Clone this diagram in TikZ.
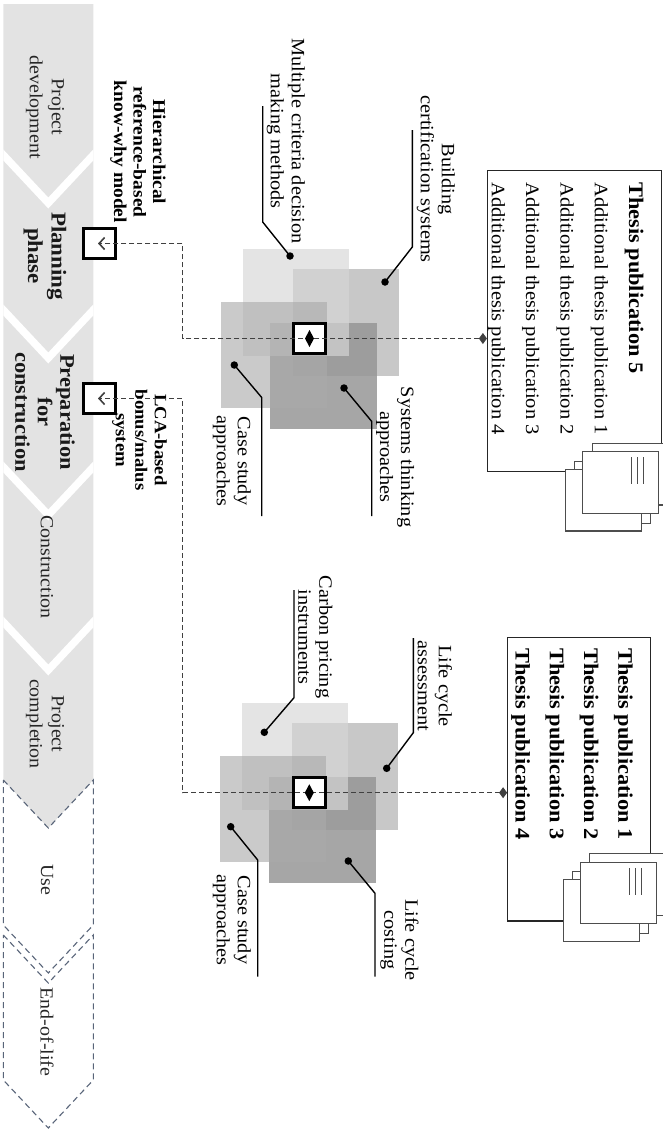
\documentclass[tikz,border=0pt]{standalone}
\usepackage{fontspec}
\setmainfont{Liberation Serif}[FakeStretch=1.08]
\usetikzlibrary{arrows.meta}
\definecolor{bandgray}{HTML}{E3E3E3}
\definecolor{dashslate}{HTML}{596579}
\definecolor{sqAcol}{RGB}{215,215,215}
\definecolor{sqBcol}{RGB}{190,190,190}
\definecolor{sqCcol}{RGB}{170,170,170}
\definecolor{sqDcol}{RGB}{150,150,150}
\definecolor{pagegray}{HTML}{4D4D4D}
\tikzset{
  phasedash/.style={draw=dashslate, line width=1.1pt, dash pattern=on 6pt off 4pt},
  phasereg/.style={rotate=-90, align=center, inner sep=0pt, text=black!85, font={\fontsize{18.5}{22}\selectfont}},
  phasebold/.style={rotate=-90, align=center, inner sep=0pt, text=black!90, font={\bfseries\fontsize{20.8}{22.5}\selectfont}},
  annot/.style={rotate=-90, align=center, inner sep=0pt},
  selbox/.style={draw=black, line width=3pt, fill=white, minimum width=32pt, minimum height=30pt, inner sep=0pt},
  conn/.style={draw=black!75, line width=0.9pt, dash pattern=on 5pt off 3pt},
  leader/.style={draw=black, line width=1.4pt},
  ldot/.style={circle, fill=black, inner sep=0pt, minimum size=7.5pt},
  lbl/.style={rotate=-90, align=center, inner sep=0pt, font={\fontsize{18.8}{21}\selectfont}},
  sqa/.style={fill=sqAcol, fill opacity=0.67},
  sqb/.style={fill=sqBcol, fill opacity=0.85},
  sqc/.style={fill=sqCcol, fill opacity=0.62},
  sqd/.style={fill=sqDcol, fill opacity=0.85},
  thbox/.style={draw=black!85, line width=1.2pt, inner sep=0pt},
  thtxt/.style={rotate=-90, align=left, inner sep=0pt, font={\fontsize{19}{34.3}\selectfont}},
  pagebox/.style={draw=pagegray, line width=1.1pt, fill=white},
  pageline/.style={draw=pagegray, line width=1pt},
  docstack/.pic={
    \path[pagebox] (9.6,-8.4) rectangle (85.6,53.3);
    \path[pagebox] (-8,9.4) rectangle (68,71.6);
    \path[pagebox] (-17,17.6) rectangle (59,79.3);
    \path[pagebox] (0,0) rectangle (76,61.6);
    \path[pageline] (49,5.6) -- (49,32.7) (55,5.6) -- (55,32.7) (60.7,5.6) -- (60.7,32.7);
  }
}
\begin{document}
\begin{tikzpicture}[x=1pt,y=-1pt]
\useasboundingbox (0,0) rectangle (663,1130);

% ---------- phase band ----------
\path[fill=bandgray] (3.3,4) -- (93.3,4) -- (93.3,780) -- (48.3,828) -- (3.3,780) -- cycle;
\begin{scope}
  \clip (3.3,4) -- (93.3,4) -- (93.3,780) -- (48.3,828) -- (3.3,780) -- cycle;
  \foreach \c in {155,310,467,622}{
    \draw[white, line width=7.5pt] (-2,\c-5.7) -- (48.3,\c+48) -- (98.6,\c-5.7);
  }
\end{scope}
\path[phasedash] (3.3,780) -- (48.3,828) -- (93.3,780) -- (93.3,925) -- (48.3,973) -- (3.3,925) -- cycle;
\path[phasedash] (3.3,935) -- (48.3,983) -- (93.3,935) -- (93.3,1080) -- (48.3,1128) -- (3.3,1080) -- cycle;

\node[phasereg] (p1) at (45,107) {Project\\development};
\node[phasebold, font={\bfseries\fontsize{21.2}{23.5}\selectfont}] (p2) at (45,256) {Planning\\phase};
\node[phasebold] (p3) at (45,412) {Preparation\\for\\construction};
\node[phasereg] (p4) at (47,567) {Construction};
\node[phasereg] (p5) at (45,724) {Project\\completion};
\node[phasereg] (p6) at (47,880) {Use};
\node[phasereg] (p7) at (47,1032) {End-of-life};

\node[annot, font={\bfseries\fontsize{18}{19.5}\selectfont}] (a1) at (138,152) {Hierarchical\\reference-based\\know-why model};
\node[annot, font={\bfseries\fontsize{17.3}{19.5}\selectfont}] (a2) at (139.5,440) {LCA-based\\bonus/malus\\system};

% ---------- square clusters ----------
\begin{scope}[shift={(309.5,338.5)}]
  \path[sqb] (-17,-70) rectangle (89,37);
  \path[sqd] (-40,-16) rectangle (67,90);
  \path[sqa] (-67,-90) rectangle (39,17);
  \path[sqc] (-89,-37) rectangle (17,69);
\end{scope}
\begin{scope}[shift={(309.3,792.7)}]
  \path[sqb] (-17,-70) rectangle (89,37);
  \path[sqd] (-40,-16) rectangle (67,90);
  \path[sqa] (-67,-90) rectangle (39,17);
  \path[sqc] (-89,-37) rectangle (17,69);
\end{scope}

% ---------- boxes ----------
\node[selbox] (lb1) at (99.5,243.5) {};
\node[selbox] (lb2) at (99.5,398.5) {};
\node[selbox] (cb1) at (309.5,338.5) {};
\node[selbox] (cb2) at (309.3,792.7) {};

% ---------- thesis boxes ----------
\node[thbox, minimum width=174.2pt, minimum height=301pt] (tb1) at (574.6,321.2) {};
\node[thbox, minimum width=143pt, minimum height=283.3pt] (tb2) at (579.2,779.35) {};

% ---------- connectors ----------
\coordinate (j1) at (182.7,338.5);
\coordinate (j2) at (182.7,792.7);
\draw[conn, {Diamond[length=8pt,width=11pt]}-{Straight Barb[length=5.5pt,width=12pt,line width=1.6pt]}]
  (tb1.west |- cb1.center) -- (j1) -- (j1 |- lb1.center) -- ([xshift=-1.5pt]lb1.center);
\draw[conn, {Diamond[length=8pt,width=11pt]}-{Straight Barb[length=5.5pt,width=12pt,line width=1.6pt]}]
  (tb2.west |- cb2.center) -- (j2) -- (j2 |- lb2.center) -- ([xshift=-1.5pt]lb2.center);
\fill (cb1.center) ++(-4.5,0) -- ++(4.5,-8.5) -- ++(4.5,8.5) -- ++(-4.5,8.5) -- cycle;
\fill (cb2.center) ++(-4.5,0) -- ++(4.5,-8.5) -- ++(4.5,8.5) -- ++(-4.5,8.5) -- cycle;

% ---------- leaders and labels, cluster 1 ----------
\node[ldot] (d1) at (385,282) {};
\coordinate (e1) at (412.3,130);
\draw[leader] (d1.center) -- (412.3,247) -- (e1);
\node[lbl, anchor=south] (t1) at (416.5,179) {Building\\certification systems};

\node[ldot] (d2) at (290,256) {};
\coordinate (e2) at (262.7,106);
\draw[leader] (d2.center) -- (262.7,222) -- (e2);
\node[lbl, anchor=south] (t2) at (266.5,141) {Multiple criteria decision\\making methods};

\node[ldot] (d3) at (234.3,365) {};
\coordinate (e3) at (261.7,516);
\draw[leader] (d3.center) -- (261.7,397.5) -- (e3);
\node[lbl, anchor=north] (t3) at (251,461) {Case study\\approaches};

\node[ldot] (d4) at (344,388) {};
\coordinate (e4) at (371.7,516);
\draw[leader] (d4.center) -- (371.7,421.4) -- (e4);
\node[lbl, anchor=south] (t4) at (376,457) {Systems thinking\\approaches};

% ---------- leaders and labels, cluster 2 ----------
\node[ldot] (d5) at (386.7,768.3) {};
\coordinate (e5) at (413.3,638);
\draw[leader] (d5.center) -- (413.3,732.7) -- (e5);
\node[lbl, anchor=south] (t5) at (417.5,686) {Life cycle\\assessment};

\node[ldot] (d6) at (264.3,732.3) {};
\coordinate (e6) at (294,590);
\draw[leader] (d6.center) -- (294,697.7) -- (e6);
\node[lbl, anchor=south] (t6) at (298,637) {Carbon pricing\\instruments};

\node[ldot] (d7) at (230.7,826.7) {};
\coordinate (e7) at (257.7,976.7);
\draw[leader] (d7.center) -- (257.7,860) -- (e7);
\node[lbl, anchor=north] (t7) at (251,920) {Case study\\approaches};

\node[ldot] (d8) at (348.3,861) {};
\coordinate (e8) at (375,976.7);
\draw[leader] (d8.center) -- (375,893.3) -- (e8);
\node[lbl, anchor=south] (t8) at (380,940) {Life cycle\\costing};

% ---------- thesis texts ----------
\node[thtxt, anchor=north west] (tt1) at (643.7,182) {{\bfseries\fontsize{20.7}{34.3}\selectfont Thesis publication 5}\\Additional thesis publication 1\\Additional thesis publication 2\\Additional thesis publication 3\\Additional thesis publication 4};
\node[thtxt, anchor=north west, font={\bfseries\fontsize{20.7}{34.3}\selectfont}] (tt2) at (633,648) {Thesis publication 1\\Thesis publication 2\\Thesis publication 3\\Thesis publication 4};

% ---------- document stacks ----------
\pic at (582.7,451.7) {docstack};
\pic at (580.3,862.3) {docstack};
\end{tikzpicture}
\end{document}
